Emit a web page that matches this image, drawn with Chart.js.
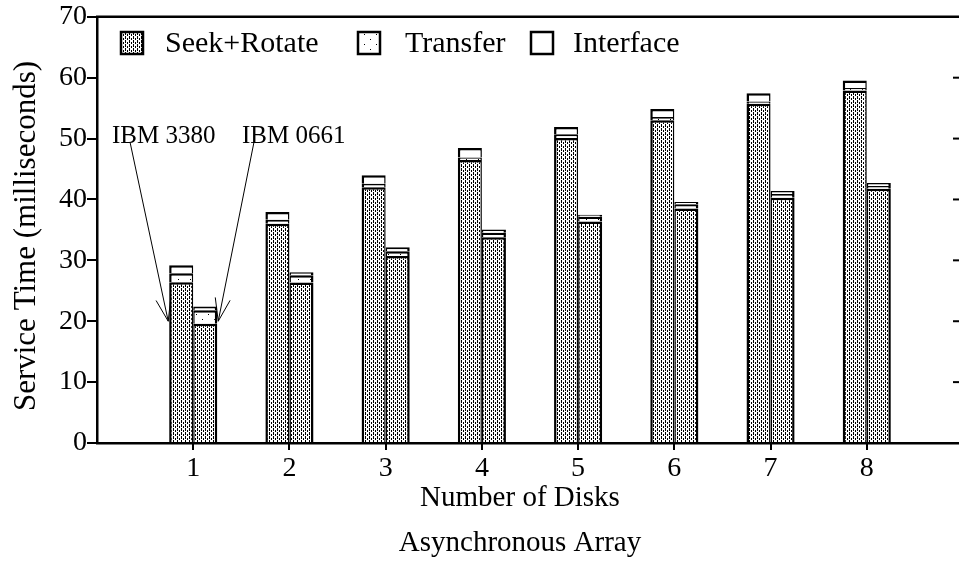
<!DOCTYPE html>
<html>
<head>
<meta charset="utf-8">
<script src="https://cdn.jsdelivr.net/npm/chart.js"></script>
<style>
  html, body { margin: 0; padding: 0; background: #fff; overflow: hidden; width: 959px; height: 561px; }
  canvas { display: block; }
</style>
</head>
<body>
<canvas id="svcChart" width="980" height="561"></canvas>
<script>
// number of disks (0 and 9 only pad the axis)
const disks = ['0', '1', '2', '3', '4', '5', '6', '7', '8', '9'];
const yTicks = [0, 10, 20, 30, 40, 50, 60, 70];

// IBM 3380, service time parts (ms)
const seek3380 = [null, 26.4, 36.0, 42.0, 46.5, 50.1, 53.0, 55.7, 57.9, null];
const xfer3380 = [null, 1.5, 0.65, 0.6, 0.4, 0.6, 0.55, 0.4, 0.4, null];
const ifc3380 = [null, 1.3, 1.3, 1.37, 1.55, 1.2, 1.3, 1.35, 1.25, null];

// IBM 0661
const seek0661 = [null, 19.6, 26.35, 30.7, 33.8, 36.4, 38.5, 40.3, 41.75, null];
const xfer0661 = [null, 2.2, 1.2, 0.8, 0.75, 0.75, 0.7, 0.6, 0.45, null];
const ifc0661 = [null, 0.6, 0.5, 0.65, 0.5, 0.35, 0.4, 0.5, 0.5, null];

const legendNames = ['Seek+Rotate', 'Transfer', 'Interface'];

const FONT = '"Liberation Serif", "DejaVu Serif", serif';

// fill patterns
function makePattern(w, h, dots) {
    const c = document.createElement('canvas');
    c.width = w; c.height = h;
    const g = c.getContext('2d');
    g.fillStyle = '#fff';
    g.fillRect(0, 0, w, h);
    g.fillStyle = '#000';
    dots.forEach(d => g.fillRect(d[0], d[1], 1, 1));
    return document.getElementById('svcChart').getContext('2d').createPattern(c, 'repeat');
}
const seekFill = makePattern(4, 4, [[1, 0], [1, 1], [1, 2], [3, 2], [3, 3]]);
const xferFill = makePattern(12, 10, [[4, 4], [10, 9]]);
const ifcFill = '#fff';
const fills = [seekFill, xferFill, ifcFill];

const leftBar = { top: 2.5, left: 2.5, right: 1.5, bottom: 0 };
const rightBar = { top: 2.5, left: 1.5, right: 2.5, bottom: 0 };

function ds(label, data, fill, stack, bw) {
    return {
        label: label, data: data, stack: stack,
        backgroundColor: fill, borderColor: '#000',
        borderWidth: bw, borderSkipped: false,
        categoryPercentage: 0.5, barPercentage: 1.0
    };
}

// frame, tick marks, legend, labels and arrows
const decorations = {
    id: 'decorations',
    afterDraw(chart) {
        const ctx = chart.ctx;
        const a = chart.chartArea;
        const x = chart.scales.x, y = chart.scales.y;
        ctx.save();
        ctx.strokeStyle = '#000';
        ctx.lineWidth = 2.5;
        ctx.beginPath();
        ctx.moveTo(a.left - 1, a.top);
        ctx.lineTo(a.right, a.top);
        ctx.moveTo(a.right, a.top);
        ctx.lineTo(a.right, a.bottom);
        ctx.stroke();
        ctx.lineWidth = 2;
        yTicks.slice(1, -1).forEach(v => {
            const py = y.getPixelForValue(v);
            ctx.beginPath();
            ctx.moveTo(a.right - 10, py);
            ctx.lineTo(a.right, py);
            ctx.stroke();
        });
        // disk-count ticks below the axis
        for (let i = 1; i <= 8; i++) {
            const px = Math.round(x.getPixelForValue(i));
            ctx.beginPath();
            ctx.moveTo(px, a.bottom);
            ctx.lineTo(px, a.bottom + 7);
            ctx.stroke();
        }

        // legend
        const boxX = [121, 358, 531];
        const textX = [165, 405, 573];
        ctx.font = '30px ' + FONT;
        ctx.textBaseline = 'middle';
        ctx.fillStyle = '#000';
        for (let i = 0; i < 3; i++) {
            ctx.fillStyle = fills[i];
            ctx.fillRect(boxX[i], 32, 22, 22);
            ctx.lineWidth = 2.5;
            ctx.strokeRect(boxX[i], 32, 22, 22);
            ctx.fillStyle = '#000';
            ctx.fillText(legendNames[i], textX[i], 44);
        }

        // axis titles
        ctx.textAlign = 'center';
        ctx.font = '29px ' + FONT;
        ctx.fillText('Number of Disks', 520, 498);
        ctx.fillText('Asynchronous Array', 520, 543);
        ctx.save();
        ctx.translate(27, 236);
        ctx.rotate(-Math.PI / 2);
        ctx.font = '31px ' + FONT;
        ctx.fillText('Service Time (milliseconds)', 0, 0);
        ctx.restore();

        // drive labels with arrows to the first pair of bars
        ctx.font = '25px ' + FONT;
        ctx.textAlign = 'left';
        ctx.textBaseline = 'alphabetic';
        ctx.fillText('IBM 3380', 112, 143);
        ctx.fillText('IBM 0661', 242, 143);
        const c1 = x.getPixelForValue(1);
        const tipY = y.getPixelForValue(20);
        arrow(ctx, 130, 142, c1 - 25, tipY);
        arrow(ctx, 254, 142, c1 + 25, tipY);
        ctx.restore();
    }
};

function arrow(ctx, x0, y0, x1, y1) {
    const ang = Math.atan2(y1 - y0, x1 - x0);
    const len = 24, spread = 0.32;
    ctx.lineWidth = 1;
    ctx.beginPath();
    ctx.moveTo(x0, y0);
    ctx.lineTo(x1, y1);
    ctx.moveTo(x1 - len * Math.cos(ang - spread), y1 - len * Math.sin(ang - spread));
    ctx.lineTo(x1, y1);
    ctx.lineTo(x1 - len * Math.cos(ang + spread), y1 - len * Math.sin(ang + spread));
    ctx.stroke();
}

new Chart(document.getElementById('svcChart'), {
    type: 'bar',
    data: {
        labels: disks,
        datasets: [
            ds(legendNames[0], seek3380, seekFill, 'ibm3380', leftBar),
            ds(legendNames[1], xfer3380, xferFill, 'ibm3380', leftBar),
            ds(legendNames[2], ifc3380, ifcFill, 'ibm3380', leftBar),
            ds(legendNames[0], seek0661, seekFill, 'ibm0661', rightBar),
            ds(legendNames[1], xfer0661, xferFill, 'ibm0661', rightBar),
            ds(legendNames[2], ifc0661, ifcFill, 'ibm0661', rightBar)
        ]
    },
    options: {
        responsive: false,
        animation: false,
        layout: { padding: { left: 0, top: 12, right: 17, bottom: 0 } },
        plugins: { legend: { display: false }, tooltip: { enabled: false } },
        scales: {
            x: {
                stacked: true,
                offset: false,
                border: { color: '#000', width: 2.5 },
                grid: { display: false, offset: false, drawOnChartArea: false },
                ticks: {
                    autoSkip: false,
                    maxRotation: 0,
                    padding: 1,
                    color: '#000',
                    font: { family: FONT, size: 28 },
                    callback: (v, i) => (i >= 1 && i <= 8) ? disks[i] : ''
                },
                afterFit: s => { s.height = 118; }
            },
            y: {
                stacked: true,
                min: 0,
                max: 70,
                border: { color: '#000', width: 2.5 },
                grid: { drawOnChartArea: false, tickLength: 10, lineWidth: 2, color: '#000' },
                ticks: {
                    stepSize: 10,
                    padding: 0,
                    color: '#000',
                    font: { family: FONT, size: 28 }
                },
                afterFit: s => { s.width = 97; }
            }
        }
    },
    plugins: [decorations]
});
</script>
</body>
</html>
